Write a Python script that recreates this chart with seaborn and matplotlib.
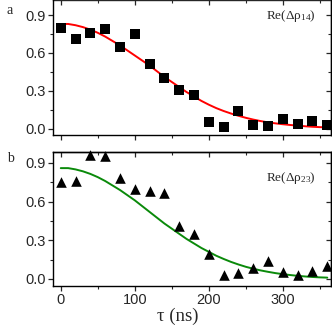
import numpy as np
import pandas as pd
import seaborn as sns
import matplotlib.pyplot as plt
from matplotlib.ticker import MultipleLocator, NullFormatter

# measured points (tau in ns)
tau = [0, 20, 40, 60, 80, 100, 120, 140, 160, 180, 200, 220, 240, 260, 280, 300, 320, 340, 360]
rho14 = [0.80, 0.71, 0.76, 0.79, 0.65, 0.75, 0.51, 0.40, 0.31, 0.27, 0.05, 0.01, 0.14, 0.03, 0.02, 0.08, 0.04, 0.06, 0.03]
rho23 = [0.75, 0.76, 0.96, 0.955, 0.78, 0.70, 0.68, 0.67, 0.41, 0.35, 0.19, 0.03, 0.045, 0.083, 0.14, 0.05, 0.03, 0.06, 0.10]

# fit curves, every 10 ns
tau_fit = list(range(0, 370, 10))
fit14 = [0.83, 0.83, 0.82, 0.805, 0.785, 0.76, 0.73, 0.695, 0.66, 0.62, 0.58, 0.54, 0.50,
         0.455, 0.41, 0.37, 0.33, 0.29, 0.255, 0.22, 0.19, 0.163, 0.14, 0.12, 0.102, 0.086,
         0.072, 0.06, 0.05, 0.042, 0.035, 0.029, 0.024, 0.019, 0.015, 0.012, 0.01]
fit23 = [0.86, 0.86, 0.85, 0.835, 0.815, 0.79, 0.76, 0.725, 0.69, 0.65, 0.61, 0.565, 0.52,
         0.475, 0.43, 0.39, 0.35, 0.31, 0.275, 0.24, 0.21, 0.18, 0.155, 0.132, 0.112, 0.094,
         0.079, 0.066, 0.055, 0.045, 0.037, 0.030, 0.024, 0.019, 0.015, 0.012, 0.01]

pts = pd.DataFrame({"tau": tau, "rho14": rho14, "rho23": rho23})
fit = pd.DataFrame({"tau": tau_fit, "fit14": fit14, "fit23": fit23})

sns.set_style("ticks")
plt.rcParams['font.family'] = ['Liberation Sans', 'DejaVu Sans']
plt.rcParams['axes.linewidth'] = 1.0
plt.rcParams['mathtext.fontset'] = 'custom'
plt.rcParams['mathtext.rm'] = 'Liberation Serif'
plt.rcParams['mathtext.it'] = 'Liberation Serif'
plt.rcParams['mathtext.default'] = 'rm'

fig = plt.figure(figsize=(3.32, 3.26), dpi=100)
ax1 = fig.add_axes([0.1596, 0.586, 0.8373, 0.414])
ax2 = fig.add_axes([0.1596, 0.1227, 0.8373, 0.411])

sns.lineplot(data=fit, x="tau", y="fit14", ax=ax1, color="#ff0000", lw=1.4)
sns.scatterplot(data=pts, x="tau", y="rho14", ax=ax1, marker="s", s=44, color="black",
                edgecolor="black", linewidth=0, zorder=3)
sns.lineplot(data=fit, x="tau", y="fit23", ax=ax2, color="#0a8a0a", lw=1.4)
sns.scatterplot(data=pts, x="tau", y="rho23", ax=ax2, marker="^", s=58, color="black",
                edgecolor="black", linewidth=0, zorder=3, clip_on=False)

ax1.set_ylim(-0.05, 1.02)
ax2.set_ylim(-0.055, 0.985)
for ax in (ax1, ax2):
    ax.set_xlim(-10.5, 365)
    ax.xaxis.set_major_locator(MultipleLocator(100))
    ax.xaxis.set_minor_locator(MultipleLocator(50))
    ax.yaxis.set_major_locator(MultipleLocator(0.3))
    ax.yaxis.set_minor_locator(MultipleLocator(0.15))
    ax.tick_params(which="major", direction="out", length=3.5, width=0.9, labelsize=10.5, pad=1.5)
    ax.tick_params(which="minor", direction="out", length=2, width=0.8)
    ax.set_ylabel("")
    ax.set_xlabel("")
    for sp in ax.spines.values():
        sp.set_visible(True)
        sp.set_color("black")
    ax.yaxis.set_major_formatter(plt.FuncFormatter(lambda v, p: f"{v:.1f}"))
    # mirrored ticks pointing inward on top and right
    sec_x = ax.secondary_xaxis("top")
    sec_y = ax.secondary_yaxis("right")
    for sec, loc in ((sec_x, sec_x.xaxis), (sec_y, sec_y.yaxis)):
        sec.tick_params(which="major", direction="in", length=3.5, width=0.9)
        sec.tick_params(which="minor", direction="in", length=2, width=0.8)
        loc.set_major_formatter(NullFormatter())
    sec_x.xaxis.set_major_locator(MultipleLocator(100))
    sec_x.xaxis.set_minor_locator(MultipleLocator(50))
    sec_y.yaxis.set_major_locator(MultipleLocator(0.3))
    sec_y.yaxis.set_minor_locator(MultipleLocator(0.15))

ax1.spines["top"].set_visible(False)
ax1.tick_params(labelbottom=False)

ax1.text(0.945, 0.885, r"Re(Δρ$_{14}$)", transform=ax1.transAxes, ha="right",
         va="center", fontsize=9.5, family="Liberation Serif")
ax2.text(0.945, 0.805, r"Re(Δρ$_{23}$)", transform=ax2.transAxes, ha="right",
         va="center", fontsize=9.5, family="Liberation Serif")

ax2.set_xlabel("τ (ns)", fontsize=13.5, family="Liberation Serif", labelpad=-1)
ax2.xaxis.set_label_coords(0.45, -0.165)

fig.text(0.021, 0.968, "a", fontsize=10, family="Liberation Serif", va="center")
fig.text(0.021, 0.515, "b", fontsize=10, family="Liberation Serif", va="center")

fig.savefig("out.png", dpi=100)
